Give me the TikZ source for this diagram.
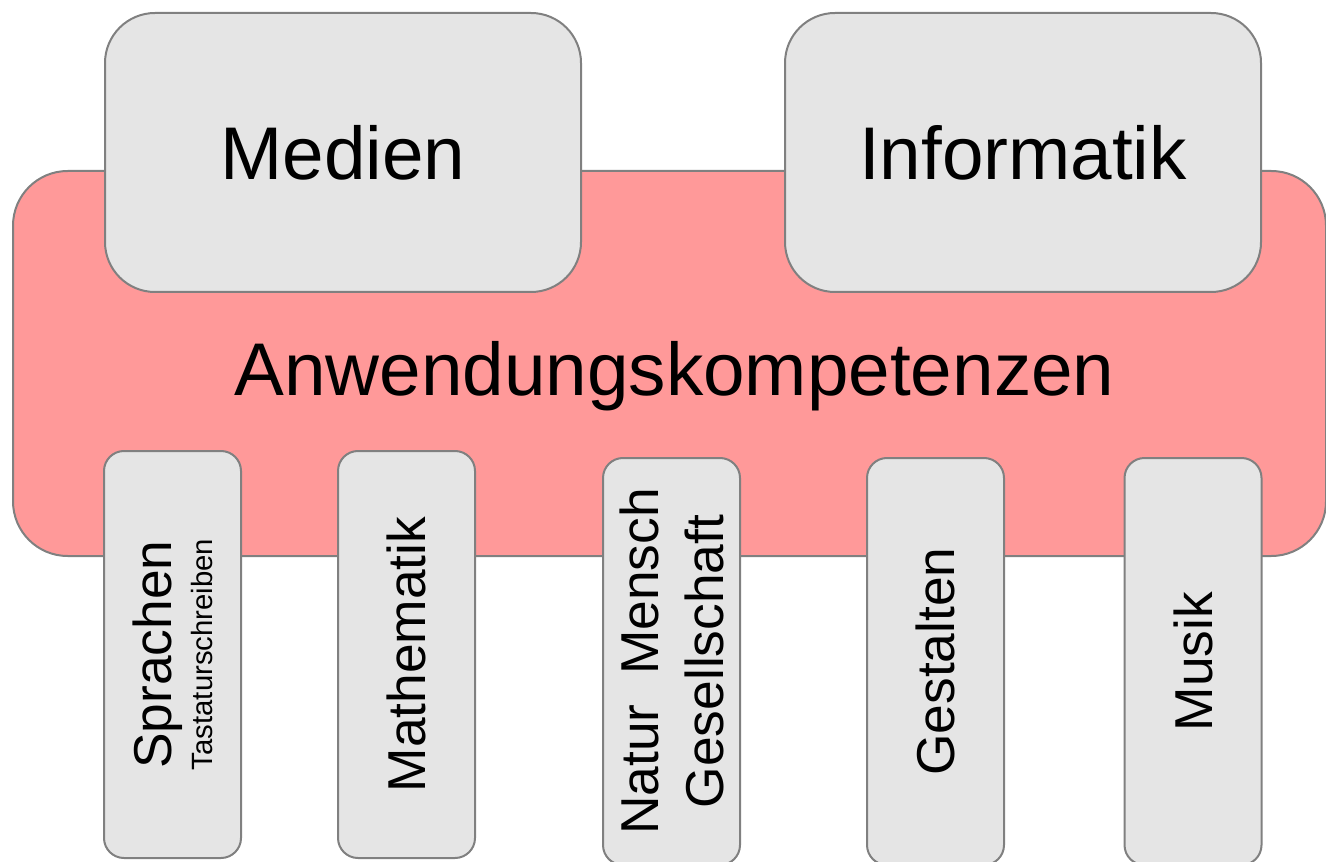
\documentclass[tikz,border=0pt]{standalone}
\usepackage{fontspec}
\setmainfont{Liberation Sans}
\definecolor{pinkfill}{HTML}{FF9999}
\definecolor{boxfill}{HTML}{E5E5E5}
\definecolor{boxline}{HTML}{808080}
\tikzset{
  pinkbox/.style={draw=boxline, fill=pinkfill, line width=1.5pt, rounded corners=41pt,
    minimum width=984.75pt, minimum height=288.75pt, inner sep=0pt},
  topbox/.style={draw=boxline, fill=boxfill, line width=1.5pt, rounded corners=37.5pt,
    minimum width=357pt, minimum height=209.25pt, inner sep=0pt,
    font=\fontsize{56}{64}\selectfont},
  subjbox/.style={draw=boxline, fill=boxfill, line width=1.5pt, rounded corners=15pt,
    minimum width=305.25pt, minimum height=102.75pt, inner sep=0pt, rotate=90,
    align=center, font=\fontsize{40}{48.75}\selectfont},
  bigtext/.style={inner sep=0pt, font=\fontsize{56}{64}\selectfont}
}
\begin{document}
\begin{tikzpicture}[x=0.75pt, y=-0.75pt]
\useasboundingbox (0,0) rectangle (1326,862);
\node[pinkbox] (pink) at (669.5,363.5) {};
\node[bigtext, anchor=base] (anw) at (674.5,395) {Anwendungskompetenzen};
\node[topbox] (medien) at (343,152.5) {Medien};
\node[topbox] (informatik) at (1023,152.5) {Informatik};
\node[subjbox, font=\fontsize{40}{30.75}\selectfont] (sprachen) at (172.5,654.5)
  {Sprachen\\\fontsize{22}{30.75}\selectfont Tastaturschreiben};
\node[subjbox] (mathe) at (406.5,654.5) {Mathematik};
\node[subjbox] (nmg) at (671.5,661.5) {Natur~~Mensch\\Gesellschaft};
\node[subjbox] (gestalten) at (935.5,661.5) {Gestalten};
\node[subjbox] (musik) at (1193,661.5) {Musik};
\end{tikzpicture}
\end{document}
